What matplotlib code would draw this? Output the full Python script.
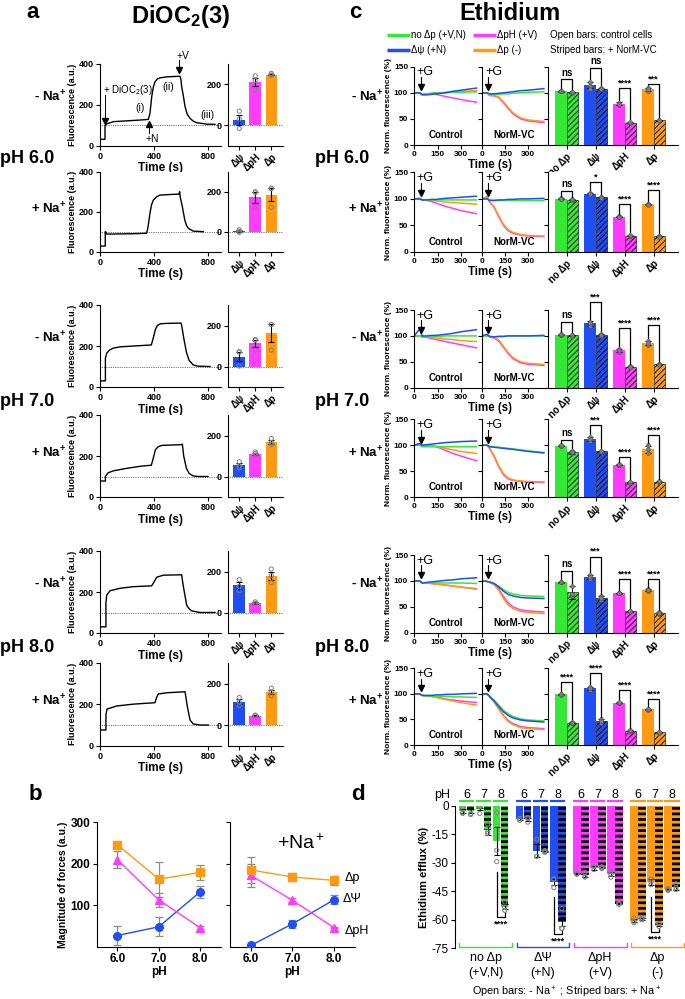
import numpy as np
import matplotlib
matplotlib.use("Agg")
import matplotlib.pyplot as plt

plt.rcParams['font.family'] = ['Liberation Sans', 'DejaVu Sans']
plt.rcParams['mathtext.fontset'] = 'custom'
plt.rcParams['mathtext.rm'] = 'Liberation Sans'
plt.rcParams['mathtext.bf'] = 'Liberation Sans:bold'
plt.rcParams['mathtext.it'] = 'Liberation Sans:italic'
plt.rcParams['axes.unicode_minus'] = False
plt.rcParams['axes.linewidth'] = 0.8
plt.rcParams['hatch.linewidth'] = 0.6

# ---------- panel a: DiOC2(3) traces (time s, fluorescence a.u.)
A1_T = [0, 37, 37, 45, 100, 200, 300, 358, 370, 383, 395, 407, 425, 444, 494, 593, 600, 605, 618, 630, 645, 667, 690, 716, 790, 852]
A1_F = [31, 31, 95, 105, 117, 121, 125, 128, 157, 238, 285, 311, 325, 330, 335, 338, 320, 287, 240, 190, 155, 133, 120, 112, 105, 104]
A2_T = [0, 39, 39, 42, 50, 150, 250, 345, 355, 370, 382, 395, 420, 444, 520, 585, 590, 595, 610, 628, 640, 654, 690, 765]
A2_F = [28, 28, 100, 100, 88, 89, 90, 92, 120, 192, 235, 258, 275, 283, 286, 288, 300, 270, 225, 158, 133, 117, 103, 100]
A3_T = [0, 40, 40, 50, 70, 100, 150, 250, 380, 395, 410, 425, 445, 480, 600, 605, 620, 640, 660, 690, 720, 800, 815]
A3_F = [30, 30, 140, 165, 180, 190, 196, 200, 205, 240, 280, 300, 308, 310, 312, 300, 240, 170, 130, 108, 102, 100, 100]
A4_T = [0, 40, 40, 60, 100, 200, 300, 380, 395, 410, 430, 460, 600, 610, 620, 640, 660, 690, 730, 800]
A4_F = [78, 78, 100, 118, 128, 140, 150, 155, 190, 230, 245, 252, 255, 258, 200, 140, 115, 103, 100, 100]
A5_T = [0, 44, 44, 50, 74, 148, 247, 383, 395, 420, 469, 605, 612, 622, 642, 660, 679, 741, 852]
A5_F = [30, 30, 150, 185, 206, 218, 226, 230, 243, 272, 282, 284, 250, 210, 136, 118, 108, 100, 100]
A6_T = [0, 44, 44, 52, 123, 247, 407, 420, 432, 494, 630, 635, 647, 667, 691, 741, 802]
A6_F = [76, 76, 150, 177, 192, 201, 208, 235, 250, 256, 261, 240, 189, 124, 105, 100, 100]

# panel a bars: [dPsi, dpH, dp] per row
A_LABELS = ['Δψ', 'ΔpH', 'Δp']
A_MEAN = [[27, 210, 246], [3, 172, 185], [48, 113, 163], [55, 112, 168], [132, 46, 179], [113, 46, 160]]
A_ERR = [[24, 20, 4], [4, 27, 32], [23, 17, 42], [9, 5, 9], [15, 3, 19], [11, 1, 10]]
A_PTS = [[[68, 30, -16], [240, 218, 171], [252, 242, 244]],
         [[10, 2, -3], [200, 195, 120], [218, 215, 122]],
         [[72, 70, 2], [132, 128, 80], [205, 205, 80]],
         [[72, 52, 42], [120, 112, 104], [185, 165, 155]],
         [[160, 128, 108], [52, 45, 42], [212, 180, 146]],
         [[133, 110, 95], [48, 46, 44], [178, 160, 142]]]

# ---------- panel c: ethidium traces, order [no dp, dPsi, dpH, dp]
TC = [0, 35, 50, 80, 110, 140, 170, 200, 250, 300, 400]
C1_CTRL = [[100, 100, 97, 98, 99, 100, 100, 100, 101, 101, 102],
           [100, 100, 96, 96, 97, 98, 99, 100, 103, 105, 109],
           [100, 100, 97, 98, 98, 97, 95, 93, 90, 87, 82],
           [100, 100, 97, 98, 99, 100, 100, 101, 102, 103, 104]]
C1_NORM = [[100, 100, 97, 97, 97, 98, 98, 99, 100, 101, 102],
           [100, 100, 98, 98, 99, 100, 101, 102, 104, 105, 108],
           [100, 100, 95, 94, 91, 81, 70, 60, 50, 46, 43],
           [100, 100, 95, 95, 92, 83, 72, 62, 52, 48, 45]]
C2_CTRL = [[100, 100, 98, 98, 98, 98, 98, 98, 98, 98, 98],
           [100, 100, 98, 98, 99, 99, 100, 101, 102, 103, 105],
           [100, 101, 98, 97, 95, 92, 89, 86, 82, 78, 72],
           [100, 101, 98, 98, 97, 96, 95, 94, 93, 92, 90]]
C2_NORM = [[100, 100, 98, 97, 97, 97, 97, 97, 97, 97, 97],
           [100, 100, 97, 97, 98, 98, 99, 99, 100, 100, 101],
           [100, 104, 94, 84, 66, 50, 40, 35, 32, 30, 29],
           [100, 104, 95, 85, 68, 52, 42, 37, 33, 31, 30]]
C3_CTRL = [[100, 100, 98, 98, 99, 99, 99, 100, 100, 100, 100],
           [100, 114, 100, 100, 101, 101, 102, 103, 105, 108, 112],
           [100, 100, 98, 97, 95, 93, 91, 89, 86, 83, 77],
           [100, 100, 98, 98, 97, 96, 95, 94, 93, 91, 89]]
C3_NORM = [[100, 100, 99, 98, 99, 99, 100, 100, 100, 100, 100],
           [100, 103, 99, 98, 99, 99, 100, 100, 100, 100, 101],
           [100, 101, 98, 96, 90, 78, 66, 56, 48, 45, 43],
           [100, 101, 98, 97, 92, 80, 68, 58, 50, 47, 45]]
C4_CTRL = [[100, 100, 97, 97, 97, 97, 97, 97, 97, 97, 97],
           [100, 103, 100, 101, 102, 103, 104, 105, 106, 107, 108],
           [100, 103, 100, 100, 99, 97, 94, 90, 84, 79, 70],
           [100, 103, 100, 100, 99, 98, 96, 94, 91, 88, 84]]
C4_NORM = [[100, 100, 98, 97, 96, 95, 94, 93, 91, 89, 86],
           [100, 100, 97, 96, 95, 94, 93, 92, 90, 88, 85],
           [100, 100, 94, 78, 58, 43, 35, 32, 30, 29, 28],
           [100, 100, 95, 80, 60, 45, 37, 33, 31, 30, 29]]
C5_CTRL = [[100, 100, 96, 96, 96, 96, 96, 96, 96, 96, 95],
           [100, 100, 96, 97, 98, 99, 100, 101, 102, 104, 106],
           [100, 100, 96, 96, 95, 94, 93, 92, 90, 88, 85],
           [100, 100, 96, 96, 95, 94, 93, 92, 90, 88, 84]]
C5_NORM = [[100, 99, 98, 95, 90, 83, 78, 75, 72, 71, 70],
           [100, 99, 98, 95, 88, 80, 74, 71, 68, 67, 66],
           [100, 99, 97, 93, 84, 70, 58, 50, 44, 42, 40],
           [100, 99, 97, 93, 82, 66, 54, 47, 41, 39, 37]]
C6_CTRL = [[100, 100, 97, 96, 96, 95, 95, 95, 94, 94, 93],
           [100, 100, 97, 97, 97, 98, 98, 99, 99, 100, 101],
           [100, 100, 97, 96, 95, 94, 92, 90, 88, 86, 83],
           [100, 100, 97, 96, 95, 93, 91, 89, 86, 83, 78]]
C6_NORM = [[100, 100, 96, 88, 78, 68, 61, 56, 51, 49, 47],
           [100, 100, 95, 86, 75, 65, 58, 53, 49, 47, 45],
           [100, 100, 95, 85, 72, 58, 48, 42, 36, 34, 32],
           [100, 100, 95, 84, 70, 56, 46, 40, 34, 32, 30]]

# panel c bars: control (open) vs NorM-VC (striped)
C_GROUPS = ['no Δp', 'Δψ', 'ΔpH', 'Δp']
C_OPEN = [[103, 115, 79, 107], [100, 110, 66, 90], [102, 124, 72, 86],
          [99, 112, 62, 92], [97, 108, 76, 82], [99, 111, 83, 70]]
C_OPEN_ERR = [[1, 6, 3, 3], [1, 1, 1, 1], [1, 4, 3, 4], [1, 4, 1, 7], [1, 4, 1, 2], [1, 3, 1, 1]]
C_STRIPED = [[101, 108, 43, 47], [98, 103, 31, 30], [101, 102, 40, 45],
             [86, 88, 28, 29], [78, 67, 41, 38], [44, 47, 28, 25]]
C_STRIPED_ERR = [[1, 1, 1, 1], [1, 1, 1, 1], [1, 2, 1, 1], [3, 1, 1, 1], [13, 3, 1, 1], [1, 3, 1, 1]]
C_PTS_OPEN = [[[103, 103, 104], [120, 113, 108], [80, 77, 79], [109, 104, 108]],
              [[100, 101, 99], [111, 110, 109], [67, 66, 65], [91, 90, 89]],
              [[102, 101, 103], [127, 119, 125], [75, 69, 72], [90, 82, 87]],
              [[99, 98, 100], [116, 108, 112], [62, 62, 63], [100, 84, 92]],
              [[97, 97, 98], [112, 104, 108], [76, 76, 77], [84, 80, 82]],
              [[99, 98, 100], [114, 108, 111], [83, 82, 84], [70, 69, 71]]]
C_PTS_STRIPED = [[[101, 100, 102], [109, 107, 108], [43, 43, 44], [47, 46, 48]],
                 [[98, 97, 99], [104, 103, 102], [31, 30, 32], [30, 31, 29]],
                 [[101, 100, 102], [104, 100, 102], [40, 41, 39], [45, 46, 44]],
                 [[89, 84, 86], [88, 87, 89], [28, 27, 29], [29, 28, 30]],
                 [[90, 70, 75], [70, 64, 67], [42, 40, 41], [39, 37, 38]],
                 [[45, 43, 44], [50, 44, 47], [28, 27, 29], [26, 24, 25]]]
C_BRACKET = [[126, 148, 109, 117], [115, 131, 90, 117], [127, 165, 115, 121],
             [110, 139, 78, 120], [120, 147, 103, 103], [123, 141, 108, 90]]
C_SIG = [['ns', 'ns', '****', '***'], ['ns', '*', '****', '****'], ['ns', '***', '****', '****'],
         ['ns', '***', '****', '****'], ['ns', '***', '****', '****'], ['****', '****', '****', '****']]

# ---------- panel b: magnitude of forces vs pH
B_PH = [6.0, 7.0, 8.0]
B_DP_MINUS = [246, 163, 179]
B_DP_MINUS_ERR = [6, 42, 19]
B_DPH_MINUS = [210, 113, 46]
B_DPH_MINUS_ERR = [20, 17, 3]
B_DPSI_MINUS = [27, 48, 132]
B_DPSI_MINUS_ERR = [24, 23, 15]
B_DP_PLUS = [185, 168, 160]
B_DP_PLUS_ERR = [32, 9, 10]
B_DPH_PLUS = [172, 112, 46]
B_DPH_PLUS_ERR = [27, 5, 2]
B_DPSI_PLUS = [3, 55, 113]
B_DPSI_PLUS_ERR = [4, 9, 11]

# ---------- panel d: ethidium efflux (%), [pH6, pH7, pH8] per group
D_GROUPS = ['no Δp\n(+V,N)', 'ΔΨ\n(+N)', 'ΔpH\n(+V)', 'Δp\n(-)']
D_PH = ['6', '7', '8']
D_OPEN = [[-2.5, -1.5, -18.5], [-7, -23.5, -40], [-35.8, -32.5, -36], [-60.4, -40, -44]]
D_OPEN_ERR = [[1.0, 0.7, 7.5], [0.5, 3.5, 1.5], [0.3, 1.0, 1.0], [1.0, 1.5, 0.5]]
D_STRIPED = [[-2.5, -12.5, -53], [-7, -24, -61], [-36.5, -32.5, -51.5], [-59.5, -62.5, -42.7]]
D_STRIPED_ERR = [[1.0, 3.0, 1.5], [0.8, 0.5, 2.5], [1.0, 0.4, 0.3], [0.5, 1.0, 1.5]]
D_PTS_OPEN = [[[-3.5, -3.9, -0.5], [-3.9, -0.5, -0.2], [-3.5, -23.3, -29.3]],
              [[-7.5, -6.8, -6.7], [-17.5, -26.5, -26.5], [-38.5, -43, -38.5]],
              [[-36, -35.8, -35.6], [-32, -33.5, -32], [-34.5, -37.5, -36]],
              [[-59, -61.5, -60.7], [-38.5, -41.5, -40], [-44, -44.5, -43.5]]]
D_PTS_STRIPED = [[[-4.0, -4.5, 1.0], [-9.5, -13.6, -14.5], [-50.6, -53.5, -55.0]],
                 [[-6.5, -8.5, -6], [-23.5, -24.5, -24], [-54, -64.5, -64.5]],
                 [[-35, -37.5, -37], [-33, -32.5, -32], [-51.5, -51.8, -51.2]],
                 [[-59.5, -60, -59], [-62, -63.5, -62], [-41, -44, -43]]]
# (group, pH index, left leg top, bracket bottom, right leg top)
D_SIG = [(0, 2, -35, -58.5, -56), (1, 2, -48, -67.5, -65.5), (3, 1, -48, -66.5, -65)]

GREEN = '#36e836'
BLUE = '#1f4ff2'
MAGENTA = '#ff3cff'
ORANGE = '#ff9a12'
A_COLORS = [BLUE, MAGENTA, ORANGE]
C_COLORS = [GREEN, BLUE, MAGENTA, ORANGE]

W, H = 685, 999
fig = plt.figure(figsize=(W / 100, H / 100), dpi=100)


def add_ax(x0, y0, x1, y1):
    return fig.add_axes([x0 / W, 1 - y1 / H, (x1 - x0) / W, (y1 - y0) / H])


def style(ax, size, bold=True):
    for s in ['top', 'right']:
        ax.spines[s].set_visible(False)
    ax.tick_params(labelsize=size, length=3, width=0.8, pad=1.5)
    for lab in ax.get_xticklabels() + ax.get_yticklabels():
        lab.set_fontweight('bold' if bold else 'normal')


A_TRACES = [(A1_T, A1_F), (A2_T, A2_F), (A3_T, A3_F), (A4_T, A4_F), (A5_T, A5_F), (A6_T, A6_F)]
C_TRACES = [(C1_CTRL, C1_NORM), (C2_CTRL, C2_NORM), (C3_CTRL, C3_NORM),
            (C4_CTRL, C4_NORM), (C5_CTRL, C5_NORM), (C6_CTRL, C6_NORM)]
A_ROWS = [(63.5, 145.7), (171.7, 251.7), (305, 387), (415, 497), (551, 633), (663, 745.7)]
C_ROWS = [(66.7, 145), (172.3, 252), (310, 387.7), (419.3, 497), (555, 632.7), (668.3, 745)]
DOTTED = (0, (1.0, 1.6))

# ---------------- panel a
for i, (top, bot) in enumerate(A_ROWS):
    ax = add_ax(100, top, 221.5, bot)
    t, f = A_TRACES[i]
    ax.plot(t, f, color='k', lw=1.0, zorder=3)
    ax.axhline(100, color='k', lw=0.5, ls=DOTTED, zorder=1)
    ax.set_xlim(0, 900)
    ax.set_ylim(0, 400)
    ax.set_xticks([0, 400, 800])
    ax.set_yticks([0, 200, 400])
    ax.set_ylabel('Fluorescence (a.u.)', fontsize=6.5, fontweight='bold', labelpad=1)
    ax.set_xlabel('Time (s)', fontsize=8.5, fontweight='bold', labelpad=1)
    style(ax, 6.5)

    if i == 0:
        ax.text(22, 271, '+ DiOC$_2$(3)', fontsize=7, ha='left', va='center')
        ax.plot([37, 37], [245, 122], color='k', lw=0.7)
        ax.plot(37, 118, marker='v', color='k', ms=4.5)
        ax.text(296, 184, '(i)', fontsize=7.5, ha='center', va='center')
        ax.text(504, 285, '(ii)', fontsize=7.5, ha='center', va='center')
        ax.text(793, 149, '(iii)', fontsize=7.5, ha='center', va='center')
        ax.text(615, 437, '+V', fontsize=7.5, ha='center', va='center', clip_on=False)
        ax.plot([585, 585], [418, 372], color='k', lw=0.7, clip_on=False)
        ax.plot(585, 366, marker='v', color='k', ms=4.5, clip_on=False)
        ax.plot(363, 108, marker='^', color='k', ms=4.5)
        ax.plot([363, 363], [100, 62], color='k', lw=0.7)
        ax.text(385, 34, '+N', fontsize=7.5, ha='center', va='center')

    bx = add_ax(227.7, top, 283.3, bot)
    x = np.arange(3)
    bx.bar(x, A_MEAN[i], width=0.72, color=A_COLORS, zorder=2)
    bx.errorbar(x, A_MEAN[i], yerr=A_ERR[i], fmt='none', ecolor='k', elinewidth=0.8,
                capsize=2.5, capthick=0.8, zorder=3)
    for j in range(3):
        bx.scatter([j] * len(A_PTS[i][j]), A_PTS[i][j], s=9, facecolors='none',
                   edgecolors='0.5', linewidths=0.7, zorder=4)
    bx.axhline(0, color='k', lw=0.5, ls=DOTTED, zorder=1)
    bx.set_xlim(-0.72, 2.75)
    bx.set_ylim(-100, 300)
    bx.set_yticks([0, 200])
    bx.set_xticks(x)
    bx.set_xticklabels(A_LABELS, rotation=45, ha='right', rotation_mode='anchor')
    style(bx, 6.5)
    for lab in bx.get_xticklabels():
        lab.set_fontsize(7)

# ---------------- panel c
for i, (top, bot) in enumerate(C_ROWS):
    for k, (x0, x1) in enumerate([(414.3, 478.3), (481.7, 545.7)]):
        ax = add_ax(x0, top, x1, bot)
        curves = C_TRACES[i][k]
        for j in [2, 3, 0, 1]:
            ax.plot(TC, curves[j], color=C_COLORS[j], lw=1.1)
        ax.set_xlim(0, 412)
        ax.set_ylim(0, 150)
        ax.set_xticks([0, 150, 300])
        ax.set_yticks([0, 50, 100, 150])
        if k == 0:
            ax.set_ylabel('Norm. fluorescence (%)', fontsize=6, fontweight='bold', labelpad=1)
        else:
            ax.set_yticklabels([])
        style(ax, 6)
        ax.text(0.5, 0.13, ['Control', 'NorM-VC'][k], transform=ax.transAxes,
                fontsize=7, fontweight='bold', ha='center', va='center')
        ax.text([12, 25][k], 139, '+G', fontsize=9, ha='left', va='center', clip_on=False)
        ax.plot([40, 40], [130, 116], color='k', lw=0.8)
        ax.plot(40, 111, marker='v', color='k', ms=4.5)

    bx = add_ax(548.3, top, 678, bot)
    g = np.arange(4)
    bx.bar(g - 0.2, C_OPEN[i], width=0.4, color=C_COLORS, zorder=2)
    with plt.rc_context({'hatch.linewidth': 0.6}):
        bars = bx.bar(g + 0.2, C_STRIPED[i], width=0.4, color=C_COLORS, hatch='//////',
                      edgecolor='k', linewidth=0.4, zorder=2)
    for b in bars:
        if hasattr(b, 'set_hatch_linewidth'):
            b.set_hatch_linewidth(0.6)
    bx.errorbar(g - 0.2, C_OPEN[i], yerr=C_OPEN_ERR[i], fmt='none', ecolor='k',
                elinewidth=0.8, capsize=2, capthick=0.8, zorder=3)
    bx.errorbar(g + 0.2, C_STRIPED[i], yerr=C_STRIPED_ERR[i], fmt='none', ecolor='k',
                elinewidth=0.8, capsize=2, capthick=0.8, zorder=3)
    for j in range(4):
        bx.scatter([j - 0.2] * 3, C_PTS_OPEN[i][j], s=8, color='0.5', edgecolors='0.3',
                   linewidths=0.4, zorder=4)
        bx.scatter([j + 0.2] * 3, C_PTS_STRIPED[i][j], s=8, color='0.5', edgecolors='0.3',
                   linewidths=0.4, zorder=4)
        yb = C_BRACKET[i][j]
        l_bot = C_OPEN[i][j] + C_OPEN_ERR[i][j] + 5
        r_bot = C_STRIPED[i][j] + C_STRIPED_ERR[i][j] + 5
        bx.plot([j - 0.2, j - 0.2, j + 0.2, j + 0.2], [l_bot, yb, yb, r_bot], color='k',
                lw=0.9, clip_on=False, zorder=5)
        sig = C_SIG[i][j]
        if sig == 'ns':
            bx.text(j, yb + 3, sig, fontsize=7, fontweight='bold', ha='center', va='bottom',
                    clip_on=False)
        else:
            bx.text(j, yb + 1, sig, fontsize=6.5, fontweight='bold', ha='center', va='bottom',
                    clip_on=False)
    bx.set_xlim(-0.63, 3.84)
    bx.set_ylim(0, 150)
    bx.set_yticks([0, 50, 100, 150])
    bx.set_yticklabels([])
    bx.set_xticks(g)
    bx.set_xticklabels(C_GROUPS, rotation=45, ha='right', rotation_mode='anchor')
    style(bx, 7)

# ---------------- panel b
for k, (x0, x1) in enumerate([(96.7, 220.7), (230, 354.7)]):
    ax = add_ax(x0, 822.3, x1, 946.7)
    sets = [(B_DPSI_MINUS, B_DPSI_MINUS_ERR, B_DPH_MINUS, B_DPH_MINUS_ERR, B_DP_MINUS, B_DP_MINUS_ERR),
            (B_DPSI_PLUS, B_DPSI_PLUS_ERR, B_DPH_PLUS, B_DPH_PLUS_ERR, B_DP_PLUS, B_DP_PLUS_ERR)][k]
    for (vals, errs, col, mk) in [(sets[0], sets[1], BLUE, 'o'), (sets[2], sets[3], MAGENTA, '^'),
                                  (sets[4], sets[5], ORANGE, 's')]:
        ax.errorbar(B_PH, vals, yerr=errs, fmt='none', ecolor='0.55', elinewidth=0.9,
                    capsize=3, capthick=0.9, zorder=2)
        ax.plot(B_PH, vals, color=col, marker=mk, ms=5.5, lw=1.0, zorder=3)
    ax.set_xlim(5.5, 8.5)
    ax.set_ylim(0, 300)
    ax.set_xticks(B_PH)
    ax.set_xticklabels(['6.0', '7.0', '8.0'])
    ax.set_yticks([100, 200, 300])
    ax.set_xlabel('pH', fontsize=8.5, fontweight='bold', labelpad=1)
    if k == 0:
        ax.set_ylabel('Magnitude of forces (a.u.)', fontsize=7.5, fontweight='bold', labelpad=2)
    else:
        ax.set_yticklabels([])
        ax.text(7.2, 250, '+Na$^+$', fontsize=14, ha='center', va='center')
        ax.text(8.25, B_DP_PLUS[2] + 5, 'Δp', fontsize=9, ha='left', va='center')
        ax.text(8.22, B_DPSI_PLUS[2] + 3, 'ΔΨ', fontsize=9, ha='left', va='center')
        ax.text(8.25, B_DPH_PLUS[2] - 8, 'ΔpH', fontsize=9, ha='left', va='center', clip_on=False)
    style(ax, 8.5)

# ---------------- panel d
dx = add_ax(455, 806, 683, 948.3)
GSTEP, PSTEP = 7.125, 2.125
for gi in range(4):
    col = C_COLORS[gi]
    for k in range(3):
        xo = gi * GSTEP + k * PSTEP
        dx.bar(xo, D_OPEN[gi][k], width=0.92, color=col, zorder=2)
        with plt.rc_context({'hatch.linewidth': 2.0}):
            bars = dx.bar(xo + 1, D_STRIPED[gi][k], width=0.92, color=col, hatch='---',
                          edgecolor='k', linewidth=0, zorder=2)
        for b in bars:
            if hasattr(b, 'set_hatch_linewidth'):
                b.set_hatch_linewidth(2.0)
        dx.errorbar([xo, xo + 1], [D_OPEN[gi][k], D_STRIPED[gi][k]],
                    yerr=[D_OPEN_ERR[gi][k], D_STRIPED_ERR[gi][k]], fmt='none', ecolor='k',
                    elinewidth=0.8, capsize=2, capthick=0.8, zorder=3)
        dx.scatter([xo] * len(D_PTS_OPEN[gi][k]), D_PTS_OPEN[gi][k], s=9, facecolors='none',
                   edgecolors='0.5', linewidths=0.7, zorder=4)
        dx.scatter([xo + 1] * len(D_PTS_STRIPED[gi][k]), D_PTS_STRIPED[gi][k], s=9,
                   facecolors='none', edgecolors='0.5', linewidths=0.7, zorder=4)
        dx.plot([xo - 0.45, xo + 1.45], [2.8, 2.8], color=col, lw=1.6, clip_on=False,
                solid_capstyle='butt')
        dx.text(xo + 0.5, 5.8, D_PH[k], fontsize=9, ha='center', va='center')
    x0 = gi * GSTEP - 0.4
    x1 = gi * GSTEP + 6.2
    dx.plot([x0, x0, x1, x1], [-72.2, -74.4, -74.4, -72.2], color=col, lw=1.0, clip_on=False)
    dx.text(gi * GSTEP + 2.9, -84, D_GROUPS[gi], fontsize=9, ha='center', va='center',
            linespacing=1.35, clip_on=False)
dx.text(-2.6, 5.8, 'pH', fontsize=9, ha='center', va='center')
for (gi, k, ltop, bottom, rtop) in D_SIG:
    xo = gi * GSTEP + k * PSTEP
    dx.plot([xo, xo, xo + 1, xo + 1], [ltop, bottom, bottom, rtop], color='k', lw=0.9)
    dx.text(xo + 0.5, bottom - 3.5, '****', fontsize=6.5, fontweight='bold', ha='center',
            va='center')
dx.set_xlim(-0.96, 27.5)
dx.set_ylim(-75, 0)
dx.set_yticks([0, -15, -30, -45, -60, -75])
dx.set_xticks([])
dx.spines['bottom'].set_visible(False)
dx.set_ylabel('Ethidium efflux (%)', fontsize=8, fontweight='bold', labelpad=2)
style(dx, 8.5, bold=False)

# ---------------- figure-level text and legend (pixel coords, y down)
ov = fig.add_axes([0, 0, 1, 1], facecolor='none')
ov.set_xlim(0, W)
ov.set_ylim(H, 0)
ov.axis('off')

ov.text(33, 12, 'a', fontsize=16, fontweight='bold', ha='center', va='center')
ov.text(355, 13, 'c', fontsize=16, fontweight='bold', ha='center', va='center')
ov.text(35, 795, 'b', fontsize=16, fontweight='bold', ha='center', va='center')
ov.text(358, 795, 'd', fontsize=16, fontweight='bold', ha='center', va='center')
ov.text(180, 16, r'DiOC$_\mathbf{2}$(3)', fontsize=17, fontweight='bold', ha='center', va='center')
ov.text(510, 14, 'Ethidium', fontsize=17, fontweight='bold', ha='center', va='center')

ROW_NA = [r'- Na$^\mathbf{+}$', r'+ Na$^\mathbf{+}$'] * 3
for i, (top, bot) in enumerate(A_ROWS):
    yc = (top + bot) / 2 - (8 if i % 2 == 0 else 3)
    ov.text(66, yc, ROW_NA[i], fontsize=9.5, fontweight='bold', ha='right', va='center')
    ov.text(383, yc, ROW_NA[i], fontsize=9.5, fontweight='bold', ha='right', va='center')
for r, lab in zip([0, 2, 4], ['pH 6.0', 'pH 7.0', 'pH 8.0']):
    yc = (A_ROWS[r][1] + A_ROWS[r + 1][0]) / 2
    ov.text(0, yc, lab, fontsize=13, fontweight='bold', ha='left', va='center')
    ov.text(315, yc, lab, fontsize=13, fontweight='bold', ha='left', va='center')
for (top, bot) in C_ROWS:
    ov.text(490, bot + 20, 'Time (s)', fontsize=8.3, fontweight='bold', ha='center', va='center')

LEGEND = [('no Δp (+V,N)', GREEN, 387, 35), ('Δψ (+N)', BLUE, 387, 50),
          ('ΔpH (+V)', MAGENTA, 473, 35), ('Δp (-)', ORANGE, 473, 50)]
for (lab, col, lx, ly) in LEGEND:
    ov.plot([lx, lx + 23], [ly, ly], color=col, lw=2.5, solid_capstyle='butt')
    ov.text(lx + 24, ly, lab, fontsize=7, ha='left', va='center')
ov.text(550, 35, 'Open bars: control cells', fontsize=7, ha='left', va='center')
ov.text(550, 50, 'Striped bars: + NorM-VC', fontsize=7, ha='left', va='center')
ov.text(567, 992, 'Open bars: - Na$^+$ ; Striped bars: + Na$^+$', fontsize=7.8, ha='center',
        va='center')

fig.savefig('out.png', dpi=100)
